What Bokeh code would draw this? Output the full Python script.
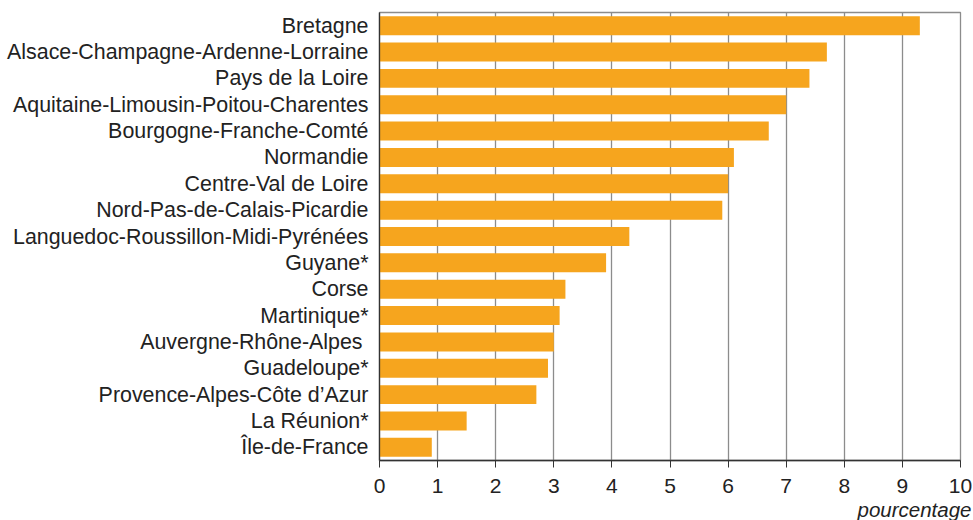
from bokeh.plotting import figure
from bokeh.models import FactorRange, Range1d, Title, FixedTicker, ColumnDataSource
from bokeh.embed import file_html
from bokeh.resources import INLINE

regions = [
    "Bretagne",
    "Alsace-Champagne-Ardenne-Lorraine",
    "Pays de la Loire",
    "Aquitaine-Limousin-Poitou-Charentes",
    "Bourgogne-Franche-Comté",
    "Normandie",
    "Centre-Val de Loire",
    "Nord-Pas-de-Calais-Picardie",
    "Languedoc-Roussillon-Midi-Pyrénées",
    "Guyane*",
    "Corse",
    "Martinique*",
    "Auvergne-Rhône-Alpes ",
    "Guadeloupe*",
    "Provence-Alpes-Côte d\u2019Azur",
    "La Réunion*",
    "Île-de-France",
]
values = [9.3, 7.7, 7.4, 7.0, 6.7, 6.1, 6.0, 5.9, 4.3, 3.9, 3.2, 3.1, 3.0, 2.9, 2.7, 1.5, 0.9]
x_ticks = [0, 1, 2, 3, 4, 5, 6, 7, 8, 9, 10]
axis_title = "pourcentage"

FONT = "Liberation Sans"

source = ColumnDataSource(dict(region=regions, value=values))

p = figure(
    y_range=FactorRange(factors=list(reversed(regions)), range_padding=0),
    x_range=Range1d(0, 10),
    frame_width=581, frame_height=448,
    min_border_left=379, min_border_right=12, min_border_top=12, min_border_bottom=0,
    output_backend="svg", toolbar_location=None,
)

p.hbar(y="region", right="value", left=0, height=0.72, source=source,
       fill_color="#F6A51E", line_color=None)

p.xgrid.ticker = FixedTicker(ticks=x_ticks)
p.xgrid.grid_line_color = "#8c8c8c"
p.xgrid.grid_line_width = 1.3
p.ygrid.grid_line_color = None
p.xgrid.level = "underlay"

p.outline_line_color = "#8c8c8c"
p.outline_line_width = 1.3

p.xaxis.ticker = FixedTicker(ticks=x_ticks)
p.xaxis.axis_line_color = "#333333"
p.xaxis.axis_line_width = 1.3
p.xaxis.major_tick_line_color = "#333333"
p.xaxis.major_tick_out = 7
p.xaxis.major_tick_in = 0
p.xaxis.minor_tick_line_color = None
p.xaxis.major_label_text_font = FONT
p.xaxis.major_label_text_font_size = "21px"
p.xaxis.major_label_text_color = "#222222"
p.xaxis.major_label_standoff = 11

p.yaxis.axis_line_color = "#333333"
p.yaxis.axis_line_width = 1.3
p.yaxis.major_tick_line_color = None
p.yaxis.minor_tick_line_color = None
p.yaxis.major_label_text_font = FONT
p.yaxis.major_label_text_font_size = "21.4px"
p.yaxis.major_label_text_color = "#222222"
p.yaxis.major_label_standoff = 5

t = Title(text=axis_title, align="right", text_font=FONT, text_font_size="20.5px",
          text_font_style="italic", text_color="#222222", standoff=0, offset=-11,
          text_line_height=0.85)
p.add_layout(t, "below")

open("out.html", "w").write(file_html(p, INLINE))
